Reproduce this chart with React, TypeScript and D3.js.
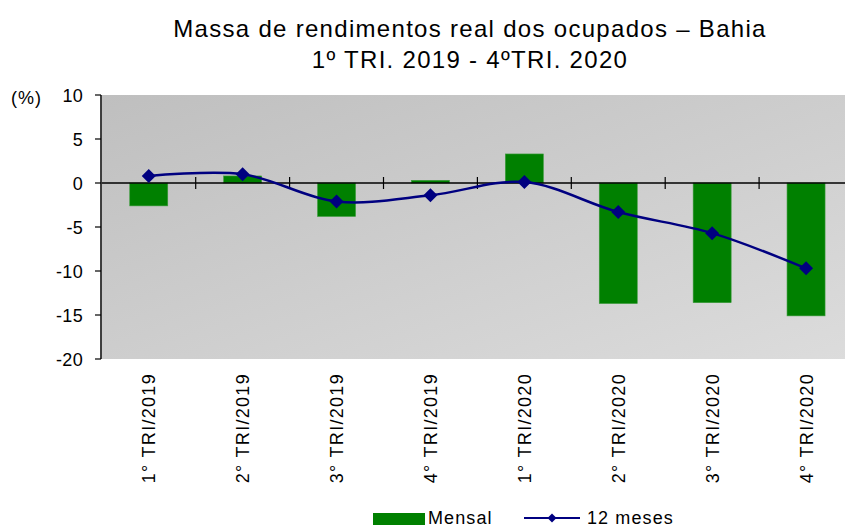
import React from "react";
import * as d3 from "d3";

const categories = ["1° TRI/2019", "2° TRI/2019", "3° TRI/2019", "4° TRI/2019", "1° TRI/2020", "2° TRI/2020", "3° TRI/2020", "4° TRI/2020"];
const mensal = [-2.6, 0.8, -3.8, 0.3, 3.3, -13.7, -13.6, -15.1];
const dozeMeses = [0.8, 1.0, -2.1, -1.4, 0.1, -3.3, -5.7, -9.7];
const yTicks = [10, 5, 0, -5, -10, -15, -20];

const W = 845, H = 527;
const left = 101.8, right = 853, top = 95, bottom = 359;

export default function App() {
  const x = d3.scaleBand<string>().domain(categories).range([left, right]).paddingInner(0).paddingOuter(0);
  const y = d3.scaleLinear().domain([-20, 10]).range([bottom, top]);
  const bw = 38;
  const cx = (c: string) => (x(c) as number) + x.bandwidth() / 2;
  const line = d3.line<number>().x((_, i) => cx(categories[i])).y(d => y(d)).curve(d3.curveCatmullRom.alpha(0.5));
  const diamond = (px: number, py: number, r: number) => `M${px},${py - r}L${px + r},${py}L${px},${py + r}L${px - r},${py}Z`;
  const font = "'Liberation Sans', Arial, sans-serif";
  return (
    <svg width={W} height={H} style={{ position: "absolute", left: 0, top: 0, fontFamily: font }}>
      <defs>
        <linearGradient id="bg" x1="0" y1="0" x2="1" y2="1">
          <stop offset="0" stopColor="#bfbfbf" />
          <stop offset="1" stopColor="#dcdcdc" />
        </linearGradient>
      </defs>
      <rect width={W} height={H} fill="#fff" />
      <text x={470} y={37} textAnchor="middle" fontSize={24} letterSpacing={1.3} fill="#000">Massa de rendimentos real dos ocupados – Bahia</text>
      <text x={470} y={68} textAnchor="middle" fontSize={24} letterSpacing={1.3} fill="#000">1º TRI. 2019 - 4ºTRI. 2020</text>
      <rect x={left} y={top} width={right - left} height={bottom - top} fill="url(#bg)" />
      {categories.map((c, i) => {
        const v = mensal[i];
        return <rect key={c} x={cx(c) - bw / 2} y={y(Math.max(0, v))} width={bw} height={Math.abs(y(v) - y(0))} fill="#008000" stroke="#3a9a3a" strokeWidth={0.6} />;
      })}
      <line x1={left} x2={right} y1={y(0)} y2={y(0)} stroke="#000" strokeWidth={1.5} />
      {categories.slice(1).map(c => (
        <line key={c} x1={x(c) as number} x2={x(c) as number} y1={y(0) - 6} y2={y(0) + 6} stroke="#000" strokeWidth={1.2} />
      ))}
      <line x1={101} x2={101} y1={top} y2={bottom} stroke="#000" strokeWidth={1.5} />
      {yTicks.map(t => (
        <g key={t}>
          <line x1={95} x2={101} y1={y(t)} y2={y(t)} stroke="#000" strokeWidth={1.2} />
          <text x={83} y={y(t) + 6.5} textAnchor="end" fontSize={18} letterSpacing={0.3} fill="#000">{t}</text>
        </g>
      ))}
      <text x={11} y={104} fontSize={18} letterSpacing={1} fill="#000">(%)</text>
      <path d={line(dozeMeses) || ""} fill="none" stroke="#000080" strokeWidth={2.5} />
      {dozeMeses.map((v, i) => (
        <path key={i} d={diamond(cx(categories[i]), y(v), 7)} fill="#000080" />
      ))}
      {categories.map(c => (
        <text key={c} transform={`translate(${cx(c) + 6.5},373) rotate(-90)`} textAnchor="end" fontSize={18} letterSpacing={1.3} fill="#000">{c}</text>
      ))}
      <rect x={373} y={513} width={52} height={12} fill="#008000" />
      <text x={428} y={524} fontSize={18} letterSpacing={1.1} fill="#000">Mensal</text>
      <line x1={524} x2={580} y1={518} y2={518} stroke="#000080" strokeWidth={2} />
      <path d={diamond(552, 518, 4.5)} fill="#000080" />
      <text x={587} y={524} fontSize={18} letterSpacing={1.1} fill="#000">12 meses</text>
    </svg>
  );
}
